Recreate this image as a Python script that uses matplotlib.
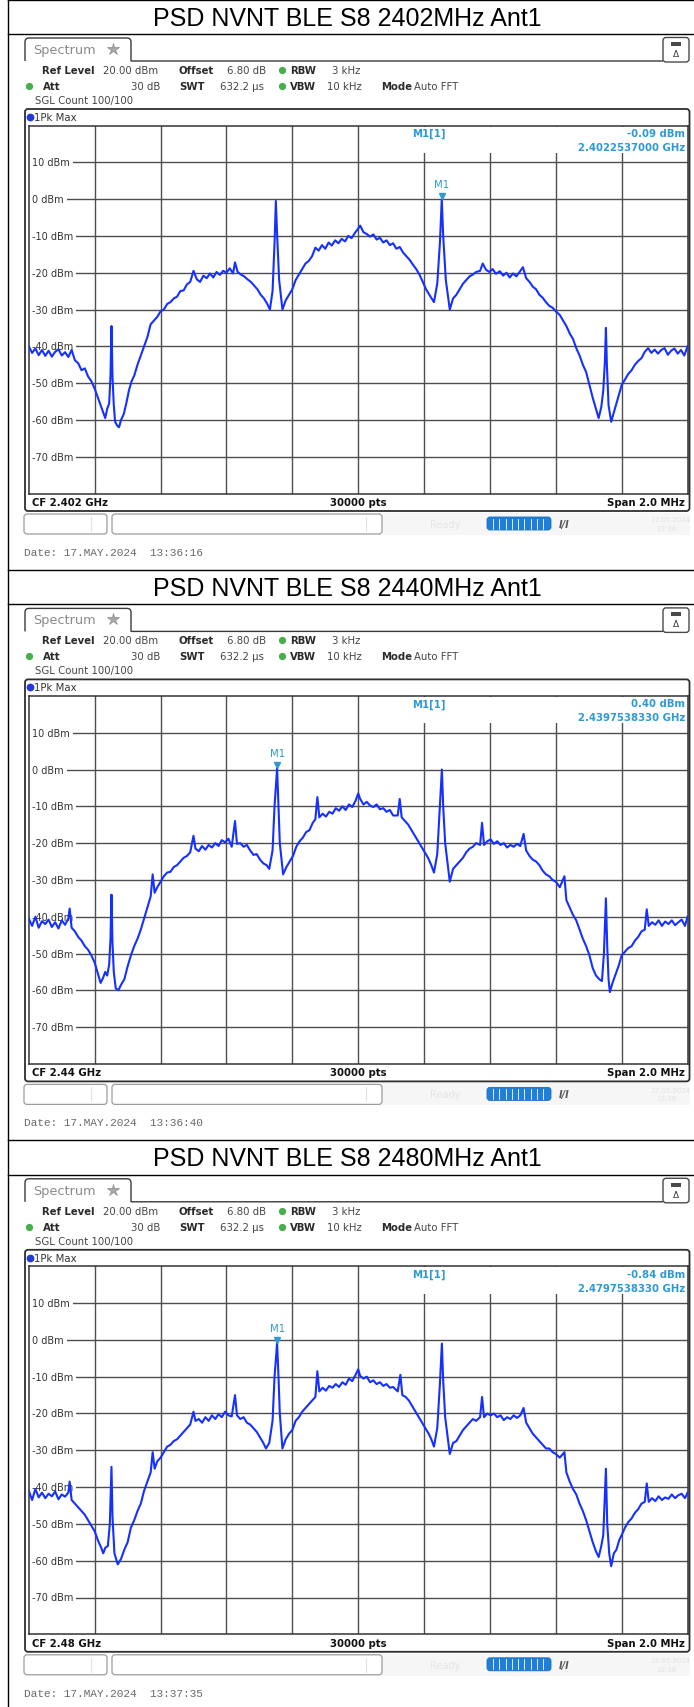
import matplotlib
matplotlib.use("Agg")
import matplotlib.pyplot as plt
from matplotlib.patches import FancyBboxPatch, Rectangle, PathPatch
from matplotlib.path import Path
from matplotlib.transforms import blended_transform_factory

# ---------------- data (frequency offset from CF in kHz, level in dBm) ----------------
titles = ["PSD NVNT BLE S8 2402MHz Ant1", "PSD NVNT BLE S8 2440MHz Ant1", "PSD NVNT BLE S8 2480MHz Ant1"]
cf_labels = ["CF 2.402 GHz", "CF 2.44 GHz", "CF 2.48 GHz"]
marker_level_txt = ["-0.09 dBm", "0.40 dBm", "-0.84 dBm"]
marker_freq_txt = ["2.4022537000 GHz", "2.4397538330 GHz", "2.4797538330 GHz"]
marker_khz = [253.7, -246.2, -246.2]
marker_dbm = [-0.09, 0.40, -0.84]
dates = ["Date: 17.MAY.2024  13:36:16", "Date: 17.MAY.2024  13:36:40", "Date: 17.MAY.2024  13:37:35"]
y_levels = [10, 0, -10, -20, -30, -40, -50, -60, -70]
x_grid_khz = [-800, -600, -400, -200, 0, 200, 400, 600, 800]

freq1 = [-1000, -990, -980, -970, -960, -950, -940, -930, -920, -910,
         -900, -890, -880, -870, -860, -850, -840, -830, -820, -810,
         -800, -790, -780, -774, -768, -762, -756, -752, -749, -746,
         -742, -738, -732, -726, -720, -712, -704, -696, -688, -680,
         -670, -660, -650, -640, -630, -620, -610, -600, -590, -580,
         -570, -560, -550, -540, -530, -520, -510, -500, -490, -480,
         -470, -460, -450, -440, -430, -420, -410, -400, -390, -380,
         -374, -366, -356, -346, -336, -326, -316, -306, -296, -286,
         -276, -268, -260, -254, -250, -246, -240, -230, -220, -210,
         -200, -190, -180, -170, -160, -150, -140, -130, -120, -110,
         -100, -90, -80, -70, -60, -50, -40, -30, -20, -10,
         0, 6, 16, 26, 36, 46, 56, 66, 76, 86,
         96, 106, 116, 126, 136, 146, 156, 166, 176, 186,
         196, 206, 216, 230, 240, 248, 253.7, 258, 266, 278,
         288, 298, 308, 318, 328, 338, 348, 358, 370, 378,
         388, 398, 408, 418, 430, 440, 450, 460, 470, 480,
         490, 500, 510, 520, 530, 540, 550, 560, 570, 580,
         590, 600, 612, 622, 632, 642, 652, 662, 672, 682,
         692, 702, 712, 722, 730, 738, 744, 749, 752, 755,
         760, 768, 776, 784, 792, 800, 810, 820, 830, 840,
         850, 860, 870, 880, 890, 900, 910, 920, 930, 940,
         950, 960, 970, 980, 990, 1000]
level1 = [-40.0, -41.8, -40.6, -42.4, -41.0, -42.6, -41.2, -42.8, -41.5, -40.8,
          -42.5, -41.6, -42.9, -41.0, -43.8, -44.6, -46.5, -46.0, -48.2, -49.5,
          -51.5, -54.0, -56.5, -58.0, -59.5, -57.0, -55.5, -48.0, -34.5, -48.0,
          -56.0, -60.5, -61.5, -62.0, -60.0, -58.5, -55.5, -52.0, -49.5, -48.0,
          -45.0, -42.5, -40.0, -37.5, -34.0, -33.0, -32.0, -30.5, -30.0, -28.5,
          -28.0, -27.0, -26.5, -25.0, -24.8, -23.2, -22.5, -19.5, -21.8, -22.5,
          -20.8, -21.5, -20.2, -21.3, -19.8, -20.6, -19.5, -20.0, -18.8, -20.2,
          -17.2, -19.8, -20.5, -21.0, -21.8, -22.5, -23.5, -24.5, -26.0, -27.0,
          -28.5, -30.0, -25.0, -12.0, -0.5, -10.0, -22.0, -30.0, -27.5, -26.0,
          -24.5, -22.0, -20.5, -19.0, -17.5, -16.8, -15.5, -13.2, -14.0, -12.5,
          -13.5, -11.8, -12.6, -11.2, -12.0, -10.8, -11.5, -10.0, -10.6, -9.2,
          -8.0, -7.2, -9.0, -9.5, -10.2, -9.6, -11.0, -10.5, -11.8, -11.2,
          -12.5, -12.0, -13.5, -13.0, -14.5, -15.5, -16.5, -17.8, -19.0, -20.5,
          -22.5, -24.5, -26.0, -28.0, -23.0, -12.0, -0.09, -10.0, -22.0, -30.0,
          -27.0, -26.0, -24.5, -23.0, -22.0, -21.0, -20.5, -19.8, -19.5, -17.5,
          -19.2, -19.8, -19.0, -20.3, -19.6, -20.8, -20.0, -21.3, -20.2, -21.0,
          -19.8, -18.5, -21.5, -22.5, -23.8, -24.5, -26.0, -26.8, -28.0, -29.0,
          -29.5, -30.5, -31.5, -33.0, -34.5, -36.5, -38.0, -40.5, -42.5, -45.0,
          -47.0, -50.5, -54.0, -57.0, -59.5, -56.5, -52.0, -44.0, -35.0, -45.0,
          -56.0, -60.5, -58.0, -55.5, -53.0, -50.5, -49.0, -47.5, -46.5, -45.0,
          -44.0, -43.2, -41.5, -40.5, -41.8, -40.9, -42.0, -41.0, -40.5, -42.3,
          -41.2, -40.6, -42.0, -41.0, -42.5, -40.0]

freq2 = [-1000, -990, -980, -970, -960, -950, -940, -930, -920, -910,
         -900, -890, -880, -876, -870, -860, -850, -840, -830, -820,
         -810, -800, -790, -782, -774, -768, -762, -756, -752, -749,
         -746, -742, -736, -728, -720, -710, -700, -690, -680, -670,
         -660, -650, -640, -630, -624, -618, -610, -600, -590, -580,
         -570, -560, -550, -540, -530, -520, -510, -500, -494, -484,
         -474, -464, -454, -444, -434, -424, -414, -404, -394, -384,
         -374, -368, -358, -348, -338, -328, -318, -308, -298, -288,
         -278, -270, -260, -254, -246.2, -242, -238, -228, -218, -208,
         -198, -188, -178, -168, -158, -148, -138, -130, -124, -118,
         -108, -98, -88, -78, -68, -58, -48, -38, -28, -18,
         -8, 0, 6, 16, 26, 36, 46, 56, 66, 76,
         86, 96, 106, 120, 126, 132, 142, 152, 162, 172,
         182, 192, 202, 212, 222, 230, 240, 248, 254, 258,
         264, 278, 288, 298, 308, 318, 328, 338, 348, 358,
         370, 376, 382, 392, 402, 412, 422, 432, 442, 452,
         462, 472, 482, 492, 502, 510, 520, 530, 540, 550,
         560, 570, 580, 590, 600, 612, 626, 632, 642, 652,
         662, 672, 682, 692, 702, 712, 722, 732, 740, 746,
         752, 756, 760, 764, 772, 780, 790, 800, 810, 820,
         830, 840, 850, 860, 870, 876, 882, 892, 902, 912,
         922, 932, 942, 952, 962, 972, 982, 992, 1000]
level2 = [-40.5, -42.5, -40.0, -43.0, -41.2, -42.0, -40.8, -42.8, -41.5, -43.2,
          -41.0, -42.2, -40.5, -37.8, -43.0, -44.0, -45.5, -46.5, -48.0, -49.0,
          -50.5, -52.5, -55.5, -58.0, -56.5, -55.0, -56.0, -53.0, -46.0, -34.0,
          -47.0, -55.0, -59.5, -60.0, -58.5, -57.0, -53.5, -50.5, -48.0, -46.0,
          -43.5, -40.5, -37.5, -34.5, -28.5, -33.5, -32.0, -30.5, -29.0, -28.0,
          -27.8, -26.5, -26.0, -25.0, -24.0, -23.5, -22.5, -18.0, -21.5, -22.2,
          -20.8, -21.8, -20.5, -21.2, -20.0, -20.8, -19.2, -19.8, -18.8, -21.0,
          -14.0, -20.2, -20.0, -21.0, -20.5, -22.0, -23.2, -23.0, -24.5, -25.5,
          -26.0, -27.0, -22.0, -10.0, 0.40, -10.0, -20.0, -28.5, -26.5, -25.0,
          -23.5, -21.0, -19.5, -18.5, -17.0, -16.5, -14.5, -13.5, -7.5, -13.0,
          -12.0, -12.8, -11.5, -12.0, -10.5, -11.2, -10.0, -11.0, -9.5, -10.2,
          -8.5, -6.5, -8.0, -9.5, -8.8, -9.8, -10.2, -9.5, -10.8, -10.5,
          -11.5, -11.0, -12.5, -12.5, -8.0, -13.0, -14.0, -15.0, -16.5, -18.0,
          -19.5, -21.0, -22.5, -24.0, -26.0, -28.0, -23.0, -10.0, 0.0, -10.0,
          -20.0, -30.5, -27.0, -26.0, -25.0, -24.0, -22.5, -21.5, -21.0, -20.0,
          -20.5, -14.5, -20.5, -19.5, -19.0, -20.2, -19.5, -20.5, -20.0, -21.2,
          -20.5, -21.0, -20.2, -20.8, -17.5, -22.0, -23.5, -24.5, -25.0, -26.0,
          -27.5, -28.5, -29.0, -30.0, -30.5, -32.0, -29.0, -35.5, -37.5, -39.5,
          -41.0, -43.5, -46.0, -48.0, -50.5, -54.0, -56.0, -57.0, -57.5, -50.0,
          -35.0, -48.0, -57.0, -60.5, -58.0, -56.0, -53.5, -50.5, -49.5, -48.5,
          -48.0, -46.5, -45.5, -44.0, -43.5, -38.0, -42.5, -41.5, -42.2, -41.0,
          -42.5, -41.3, -42.0, -41.0, -42.3, -41.5, -40.8, -42.5, -40.0]

freq3 = [-1000, -990, -980, -970, -960, -950, -940, -930, -920, -910,
         -900, -890, -880, -876, -870, -860, -850, -840, -830, -820,
         -810, -800, -790, -780, -774, -768, -760, -754, -749, -746,
         -740, -730, -720, -710, -700, -690, -680, -670, -660, -650,
         -640, -630, -624, -618, -610, -600, -590, -580, -570, -560,
         -550, -540, -530, -520, -510, -500, -494, -484, -474, -464,
         -454, -444, -434, -424, -414, -404, -394, -384, -374, -368,
         -358, -348, -338, -328, -318, -308, -298, -288, -280, -270,
         -260, -254, -246.2, -242, -238, -230, -220, -210, -200, -190,
         -180, -170, -160, -150, -140, -130, -124, -118, -108, -98,
         -88, -78, -68, -58, -48, -38, -28, -18, -8, 0,
         6, 16, 26, 36, 46, 56, 66, 76, 86, 96,
         106, 120, 128, 134, 144, 154, 164, 174, 184, 194,
         204, 214, 222, 230, 240, 248, 254, 258, 264, 278,
         288, 298, 308, 318, 328, 338, 348, 358, 370, 376,
         382, 392, 402, 412, 422, 432, 442, 452, 462, 472,
         482, 492, 502, 510, 520, 530, 540, 550, 560, 570,
         580, 590, 600, 612, 626, 632, 642, 652, 662, 672,
         682, 692, 702, 712, 722, 730, 738, 744, 752, 756,
         762, 768, 776, 784, 792, 800, 810, 820, 830, 840,
         850, 860, 870, 876, 882, 892, 902, 912, 922, 932,
         942, 952, 962, 972, 982, 992, 1000]
level3 = [-41.0, -43.5, -40.5, -42.8, -41.5, -43.0, -41.8, -42.5, -41.2, -43.3,
          -42.0, -42.6, -41.5, -38.5, -43.5, -44.5, -45.5, -46.5, -47.5, -49.0,
          -50.5, -52.0, -54.5, -56.5, -58.0, -56.5, -56.0, -50.0, -34.5, -48.0,
          -58.0, -61.0, -59.5, -57.0, -55.0, -51.0, -49.0, -46.5, -44.5, -41.0,
          -38.5, -36.0, -30.5, -35.0, -33.0, -32.0, -30.5, -29.0, -28.5, -27.5,
          -27.0, -26.0, -25.0, -24.0, -23.0, -19.5, -22.0, -21.5, -22.5, -21.0,
          -22.0, -20.5, -21.5, -20.2, -21.0, -19.5, -20.5, -20.8, -15.0, -20.5,
          -21.5, -21.0, -22.5, -23.0, -24.0, -25.0, -26.5, -28.0, -29.5, -28.0,
          -22.0, -10.0, -0.84, -10.0, -20.0, -29.5, -27.0, -25.5, -24.5, -22.0,
          -21.0, -19.5, -18.5, -17.5, -16.5, -15.5, -8.5, -14.0, -13.0, -13.8,
          -12.5, -13.0, -12.0, -12.8, -11.5, -12.2, -10.5, -11.2, -9.5, -8.0,
          -9.8, -10.5, -10.0, -11.5, -11.0, -12.0, -11.5, -12.5, -12.0, -13.0,
          -12.8, -14.0, -9.5, -15.0, -15.5, -16.5, -18.0, -19.5, -21.0, -22.5,
          -24.0, -25.5, -27.0, -29.0, -24.0, -12.0, -1.0, -11.0, -21.0, -31.0,
          -28.0, -27.5, -26.0, -24.5, -23.5, -22.5, -21.5, -22.0, -21.0, -15.5,
          -21.0, -20.0, -20.5, -20.0, -21.0, -20.5, -21.8, -21.0, -21.5, -20.5,
          -21.2, -20.5, -18.5, -22.5, -24.0, -25.5, -26.5, -27.5, -28.5, -29.5,
          -29.5, -30.5, -31.0, -32.0, -30.5, -36.0, -38.5, -40.5, -42.0, -44.5,
          -46.5, -49.0, -52.0, -55.0, -57.5, -59.0, -56.0, -53.0, -35.0, -50.0,
          -58.0, -61.5, -58.0, -57.0, -54.5, -53.0, -51.0, -49.5, -48.5, -47.0,
          -46.0, -44.5, -44.0, -39.0, -44.0, -43.0, -43.8, -42.5, -43.5, -42.8,
          -43.2, -42.0, -43.0, -42.2, -41.8, -43.0, -41.5]

freqs = [freq1, freq2, freq3]
levels = [level1, level2, level3]

# ---------------- layout (pixels) ----------------
W, H = 694, 1708
PANEL_H = 570.4
GX0, GX1 = 28.8, 687.6
GY0, GY1 = 126.5, 494.5
TRACE = '#1530ff'
MBLUE = '#2d9ad6'
GRID = '#4e4e4e'
FS = 7.3

fig = plt.figure(figsize=(W / 100, H / 100), dpi=100)
fig.patch.set_facecolor('white')
ov = fig.add_axes([0, 0, 1, 1], zorder=5)
ov.set_xlim(0, W)
ov.set_ylim(H, 0)
ov.axis('off')
ov.patch.set_alpha(0)


def T(x, y, s, **kw):
    kw.setdefault('fontsize', FS)
    kw.setdefault('va', 'center')
    kw.setdefault('family', 'DejaVu Sans')
    ov.text(x, y, s, **kw)


def rbox(x0, y0, x1, y1, r=3, **kw):
    p = FancyBboxPatch((x0, y0), x1 - x0, y1 - y0,
                       boxstyle=f"round,pad=0,rounding_size={r}", **kw)
    ov.add_patch(p)


ov.plot([8, 8], [0, H], color='black', lw=1.0)

for i in range(3):
    t = i * PANEL_H
    # table lines + title
    ov.plot([8, W], [t + 0.6, t + 0.6], color='black', lw=1.0)
    ov.plot([8, W], [t + 35, t + 35], color='black', lw=1.0)
    ov.text(W / 2, t + 18.5, titles[i], ha='center', va='center', fontsize=18,
            family='Liberation Sans', color='black')

    # Spectrum tab
    verts = [(25, t + 62), (25, t + 43), (25, t + 39), (29, t + 39), (127, t + 39),
             (131, t + 39), (131, t + 43), (131, t + 62), (663, t + 62)]
    codes = [Path.MOVETO, Path.LINETO, Path.CURVE3, Path.CURVE3, Path.LINETO,
             Path.CURVE3, Path.CURVE3, Path.LINETO, Path.LINETO]
    ov.add_patch(PathPatch(Path(verts, codes), fc='none', ec='#3a3a3a', lw=1.0))
    T(33, t + 50.5, "Spectrum", fontsize=9.3, color='#8a8a8a')
    ov.plot([113], [t + 50], marker='*', ms=9, color='#a8a8a8', mec='#8a8a8a', mew=0.5)
    # icon box right
    rbox(663, t + 38.5, 689, t + 63, r=3, fc='white', ec='#4a4a4a', lw=1.0)
    ov.add_patch(Rectangle((671, t + 43), 10, 4, fc='#4a4a4a', ec='none'))
    T(676, t + 54.5, "Δ", fontsize=6.5, ha='center', color='#3a3a3a')

    # header rows
    y1, y2, y3 = t + 71, t + 87, t + 101
    T(42, y1, "Ref Level", fontweight='bold', color='#2a2a2a')
    T(103, y1, "20.00 dBm", color='#444444')
    T(179, y1, "Offset", fontweight='bold', color='#2a2a2a')
    T(227, y1, "6.80 dB", color='#444444')
    ov.plot([282], [y1], 'o', ms=4.2, color='#45b04a')
    T(290, y1, "RBW", fontweight='bold', color='#2a2a2a')
    T(332, y1, "3 kHz", color='#444444')
    ov.plot([29], [y2], 'o', ms=4.2, color='#45b04a')
    T(43, y2, "Att", fontweight='bold', color='#2a2a2a')
    T(160, y2, "30 dB", ha='right', color='#444444')
    T(179, y2, "SWT", fontweight='bold', color='#2a2a2a')
    T(220, y2, "632.2 µs", color='#444444')
    ov.plot([282], [y2], 'o', ms=4.2, color='#45b04a')
    T(290, y2, "VBW", fontweight='bold', color='#2a2a2a')
    T(327, y2, "10 kHz", color='#444444')
    T(381, y2, "Mode", fontweight='bold', color='#2a2a2a')
    T(414, y2, "Auto FFT", color='#444444')
    T(35, y3, "SGL Count 100/100", color='#444444')

    # measurement frame
    rbox(25, t + 110, 689.5, t + 512, r=3, fc='none', ec='#2e2e2e', lw=1.3)
    ov.plot([30.5], [t + 118], 'o', ms=4.6, color='#2638d8')
    T(34.5, t + 118, "1Pk Max", color='#333333')

    # marker readout (white area hides the grid behind it)
    ov.add_patch(Rectangle((359.8, t + 127.6), 686.8 - 359.8, 154 - 127.6,
                           fc='white', ec='none'))
    T(412, t + 134, "M1[1]", fontweight='bold', color=MBLUE)
    T(685, t + 134, marker_level_txt[i], ha='right', fontweight='bold', color=MBLUE)
    T(685, t + 148, marker_freq_txt[i], ha='right', fontweight='bold', color=MBLUE)

    # bottom row
    T(32, t + 503, cf_labels[i], fontweight='bold', color='#111111')
    T(358, t + 503, "30000 pts", ha='center', fontweight='bold', color='#111111')
    T(685, t + 503, "Span 2.0 MHz", ha='right', fontweight='bold', color='#111111')

    # status bar
    ov.add_patch(Rectangle((382, t + 514), 690 - 382, 22, fc='#f6f6f6', ec='none'))
    rbox(24, t + 515, 107, t + 535, r=3, fc='white', ec='#9c9c9c', lw=0.9)
    ov.plot([91, 91], [t + 518, t + 532], color='#e2e2e2', lw=0.8)
    rbox(112, t + 515, 382, t + 535, r=3, fc='white', ec='#9c9c9c', lw=0.9)
    ov.plot([366, 366], [t + 518, t + 532], color='#e2e2e2', lw=0.8)
    T(430, t + 525, "Ready", fontsize=7, color='#e4e4e4')
    rbox(487, t + 518, 551, t + 531, r=3, fc='#1f7fd6', ec='#1a6fbf', lw=0.6)
    for k in range(9):
        xs = 493 + k * 6.3
        ov.plot([xs, xs], [t + 519.5, t + 529.5], color='white', lw=0.6)
    T(559, t + 525, "I/I", fontsize=7, fontweight='bold', style='italic', color='#5a5a5a')
    T(650, t + 520.5, "17.05.2024", fontsize=5, color='#e2e2e2')
    T(656, t + 529, "13:36", fontsize=5, color='#e2e2e2')

    # date line
    ov.text(24, t + 553, dates[i], family='Liberation Mono', fontsize=8,
            color='#6a6a6a', va='center')

    # --------- trace axes ---------
    ax = fig.add_axes([GX0 / W, 1 - (t + GY1) / H, (GX1 - GX0) / W, (GY1 - GY0) / H], zorder=2)
    ax.set_xlim(-1000, 1000)
    ax.set_ylim(-80, 20)
    ax.set_xticks([])
    ax.set_yticks([])
    ax.set_facecolor('white')
    for s in ax.spines.values():
        s.set_color('#333333')
        s.set_linewidth(1.1)
    for xv in x_grid_khz:
        ax.axvline(xv, color=GRID, lw=1.0, zorder=1)
    for yv in y_levels:
        ax.axhline(yv, color=GRID, lw=1.0, zorder=1)
    tr = blended_transform_factory(ax.transAxes, ax.transData)
    for yv in y_levels:
        ax.annotate(f"{yv} dBm", xy=(0, yv), xycoords=tr, xytext=(2.3, 0),
                    textcoords='offset points', ha='left', va='center', fontsize=7,
                    color='#333333', family='DejaVu Sans', zorder=2,
                    bbox=dict(boxstyle='square,pad=0.3', fc='white', ec='none'))
    ax.plot(freqs[i], levels[i], color=TRACE, lw=1.5, zorder=4)
    ax.plot([marker_khz[i]], [marker_dbm[i] + 0.9], marker='v', ms=5, color=MBLUE,
            zorder=5, ls='none')
    ax.text(marker_khz[i], marker_dbm[i] + 4.2, "M1", ha='center', va='center',
            fontsize=7.3, color=MBLUE, zorder=5)

fig.savefig("out.png", dpi=100)
